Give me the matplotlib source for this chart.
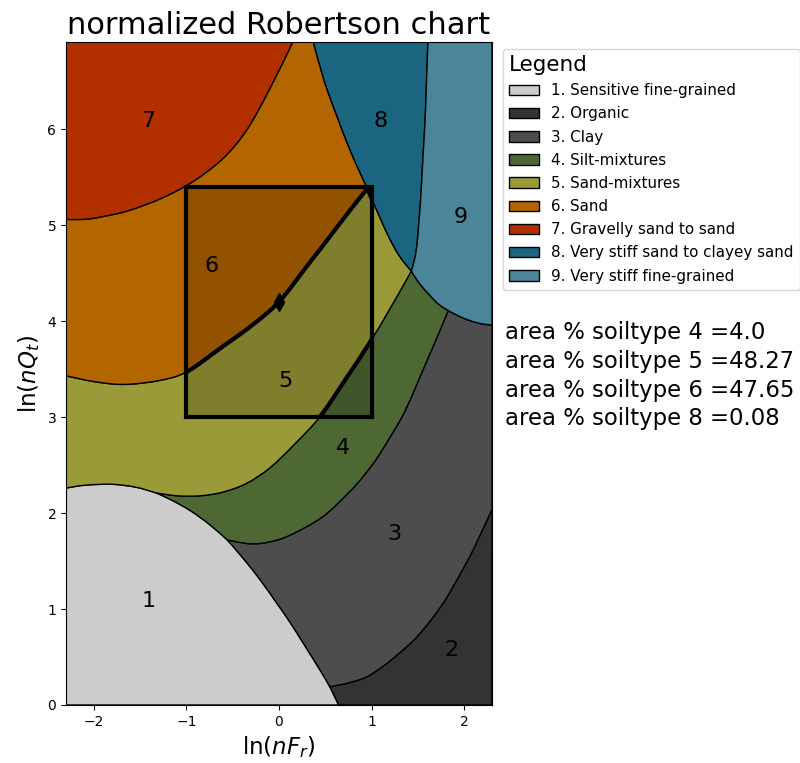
import matplotlib
matplotlib.use("Agg")
import matplotlib.pyplot as plt
import numpy as np
from matplotlib.patches import PathPatch, Rectangle, Patch
from matplotlib.path import Path

XMIN, XMAX = np.log(0.1), np.log(10)
YMIN, YMAX = 0.0, np.log(1000)

# ---- zone boundaries (x = ln nFr, y = ln nQt) ----
b1a_x = [-2.303, -2.1, -1.81, -1.55, -1.33]
b1a_y = [2.26, 2.29, 2.30, 2.27, 2.21]
b1b_x = [-1.33, -1.15, -0.95, -0.75, -0.56]
b1b_y = [2.21, 2.13, 2.02, 1.88, 1.72]
b1c_x = [-0.56, -0.38, -0.2, -0.03, 0.1, 0.22, 0.33, 0.44, 0.55]
b1c_y = [1.72, 1.52, 1.30, 1.07, 0.89, 0.71, 0.54, 0.37, 0.19]
b1d_x = [0.55, 0.645]
b1d_y = [0.19, 0.0]

b32_x = [0.55, 0.75, 0.94, 1.12, 1.30, 1.45, 1.58, 1.70, 1.80, 1.95, 2.1, 2.303]
b32_y = [0.19, 0.23, 0.29, 0.40, 0.54, 0.67, 0.81, 0.96, 1.10, 1.35, 1.62, 2.04]

b43_x = [1.83, 1.69, 1.60, 1.37, 1.2, 1.05, 0.9, 0.76, 0.47, 0.12, -0.1, -0.31, -0.56]
b43_y = [4.11, 3.79, 3.59, 3.08, 2.79, 2.56, 2.37, 2.22, 1.96, 1.77, 1.70, 1.68, 1.72]

b9a_x = [1.43, 1.52, 1.62, 1.72, 1.83]
b9a_y = [4.52, 4.39, 4.28, 4.18, 4.11]
b9b_x = [1.83, 1.95, 2.08, 2.2, 2.303]
b9b_y = [4.11, 4.05, 4.0, 3.97, 3.96]

b54_x = [-1.33, -1.1, -0.85, -0.6, -0.35, -0.1, 0.15, 0.44, 0.71, 0.97, 1.2, 1.43]
b54_y = [2.21, 2.18, 2.18, 2.22, 2.31, 2.47, 2.70, 3.0, 3.38, 3.76, 4.13, 4.52]

b65_x = [-2.303, -2.0, -1.68, -1.3, -1.0, -0.63, -0.3, 0.0, 0.3, 0.55, 0.78, 0.955]
b65_y = [3.43, 3.37, 3.34, 3.38, 3.47, 3.72, 3.95, 4.2, 4.57, 4.88, 5.17, 5.38]

b58_x = [0.955, 1.0, 1.1, 1.19, 1.3, 1.43]
b58_y = [5.38, 5.28, 5.06, 4.87, 4.68, 4.52]

b68_x = [0.37, 0.49, 0.62, 0.76, 0.87, 0.955]
b68_y = [6.91, 6.5, 6.15, 5.80, 5.56, 5.38]

b89_x = [1.61, 1.595, 1.58, 1.56, 1.545, 1.53, 1.51, 1.49, 1.46, 1.43]
b89_y = [6.91, 6.5, 6.1, 5.77, 5.5, 5.25, 5.0, 4.78, 4.62, 4.52]

b76_x = [-2.303, -2.1, -1.9, -1.63, -1.27, -0.92, -0.6, -0.35, -0.1, 0.15]
b76_y = [5.06, 5.06, 5.09, 5.15, 5.28, 5.46, 5.70, 5.99, 6.42, 6.91]

zone_names = ["1. Sensitive fine-grained", "2. Organic", "3. Clay",
              "4. Silt-mixtures", "5. Sand-mixtures", "6. Sand",
              "7. Gravelly sand to sand", "8. Very stiff sand to clayey sand",
              "9. Very stiff fine-grained"]
zone_colors = ["#cccccc", "#333333", "#4d4d4d", "#4e6834", "#9a9a38",
               "#b36500", "#b23000", "#1b6580", "#4a859a"]

label_text = ["1", "2", "3", "4", "5", "6", "7", "8", "9"]
label_x = [-1.41, 1.86, 1.25, 0.69, 0.07, -0.73, -1.41, 1.10, 1.96]
label_y = [1.08, 0.57, 1.78, 2.68, 3.38, 4.57, 6.08, 6.08, 5.08]

box_x = [-1.0, 1.0]
box_y = [3.0, 5.4]
point_x = [0.0]
point_y = [4.2]

area_types = [4, 5, 6, 8]
area_values = ["4.0", "48.27", "47.65", "0.08"]


def seg(xs, ys):
    return np.column_stack([xs, ys]).astype(float)


def rev(a):
    return a[::-1]


def smooth_path(segments, closed=True):
    """Build a Path that follows each boundary with smooth Bezier pieces."""
    verts, codes = [], []
    cur = None
    for s in segments:
        s = np.asarray(s, dtype=float)
        if cur is None:
            verts.append(s[0]); codes.append(Path.MOVETO)
        elif not np.allclose(cur, s[0]):
            verts.append(s[0]); codes.append(Path.LINETO)
        n = len(s)
        if n >= 3:
            for i in range(n - 1):
                p0 = s[max(i - 1, 0)]
                p1 = s[i]
                p2 = s[i + 1]
                p3 = s[min(i + 2, n - 1)]
                c1 = p1 + (p2 - p0) / 6.0
                c2 = p2 - (p3 - p1) / 6.0
                verts += [c1, c2, p2]
                codes += [Path.CURVE4] * 3
        elif n == 2:
            verts.append(s[1]); codes.append(Path.LINETO)
        cur = s[-1]
    if closed:
        verts.append(verts[0]); codes.append(Path.CLOSEPOLY)
    return Path(np.array(verts), codes)


b1a = seg(b1a_x, b1a_y); b1b = seg(b1b_x, b1b_y)
b1c = seg(b1c_x, b1c_y); b1d = seg(b1d_x, b1d_y)
b1 = np.vstack([b1a, b1b[1:], b1c[1:], b1d[1:]])
b32 = seg(b32_x, b32_y); b43 = seg(b43_x, b43_y)
b9a = seg(b9a_x, b9a_y); b9b = seg(b9b_x, b9b_y)
b54 = seg(b54_x, b54_y); b65 = seg(b65_x, b65_y)
b58 = seg(b58_x, b58_y); b68 = seg(b68_x, b68_y)
b89 = seg(b89_x, b89_y); b76 = seg(b76_x, b76_y)
b9 = np.vstack([b9a, b9b[1:]])

regions = [
    [b1, [[XMIN, 0.0]]],
    [b1d, [[XMAX, 0.0]], rev(b32)],
    [b1c, b32, rev(b9b), b43],
    [b1b, rev(b43), rev(b9a), rev(b54)],
    [b65, b58, rev(b54), rev(b1a)],
    [b76, b68, rev(b65)],
    [[[XMIN, 7.0]], rev(b76)],
    [b89, rev(b58), rev(b68)],
    [[[XMAX, 7.0]], rev(b9), rev(b89)],
]

fig = plt.figure(figsize=(8.0, 7.63), dpi=100)
ax = fig.add_axes([66 / 800, 58 / 763, 426 / 800, 663 / 763])

for r, c in zip(regions, zone_colors):
    ax.add_patch(PathPatch(smooth_path(r), facecolor=c, edgecolor="black", lw=1.0))

for t, x, y in zip(label_text, label_x, label_y):
    ax.text(x, y, t, fontsize=16, ha="center", va="center")

# selection box
bx0, bx1 = box_x
by0, by1 = box_y
ax.add_patch(Rectangle((bx0, by0), bx1 - bx0, by1 - by0, facecolor="black",
                       alpha=0.18, edgecolor="none", zorder=3))
clip_rect = Rectangle((bx0, by0), bx1 - bx0, by1 - by0, transform=ax.transData,
                      facecolor="none", edgecolor="none")
for b in [b65, b58, b54, b68]:
    pp = PathPatch(smooth_path([b], closed=False), facecolor="none",
                   edgecolor="black", lw=3, zorder=4)
    ax.add_patch(pp)
    pp.set_clip_path(clip_rect)
ax.add_patch(Rectangle((bx0, by0), bx1 - bx0, by1 - by0, facecolor="none",
                       edgecolor="black", lw=3, zorder=5))
ax.plot(point_x, point_y, marker="d", color="black", ms=9, zorder=6)

ax.set_xlim(XMIN, XMAX)
ax.set_ylim(YMIN, YMAX)
ax.set_xticks([-2, -1, 0, 1, 2])
ax.set_yticks([0, 1, 2, 3, 4, 5, 6])
ax.tick_params(labelsize=10)
ax.set_xlabel(r"$\ln(nF_r)$", fontsize=16.5)
ax.set_ylabel(r"$\ln(nQ_t)$", fontsize=16.5)
ax.set_title("normalized Robertson chart", fontsize=22)

handles = [Patch(facecolor=c, edgecolor="black", label=n)
           for c, n in zip(zone_colors, zone_names)]
leg = fig.legend(handles=handles, title="Legend", loc="upper left",
                 bbox_to_anchor=(503 / 800, 1 - 49 / 763), fontsize=10.9,
                 title_fontsize=15.5, labelspacing=0.54, alignment="left",
                 borderaxespad=0.0)

for i, (t, v) in enumerate(zip(area_types, area_values)):
    fig.text(505 / 800, 1 - (333 + 28.5 * i) / 763,
             f"area % soiltype {t} ={v}", fontsize=16.4, va="center", ha="left")

fig.savefig("out.png", dpi=100)
